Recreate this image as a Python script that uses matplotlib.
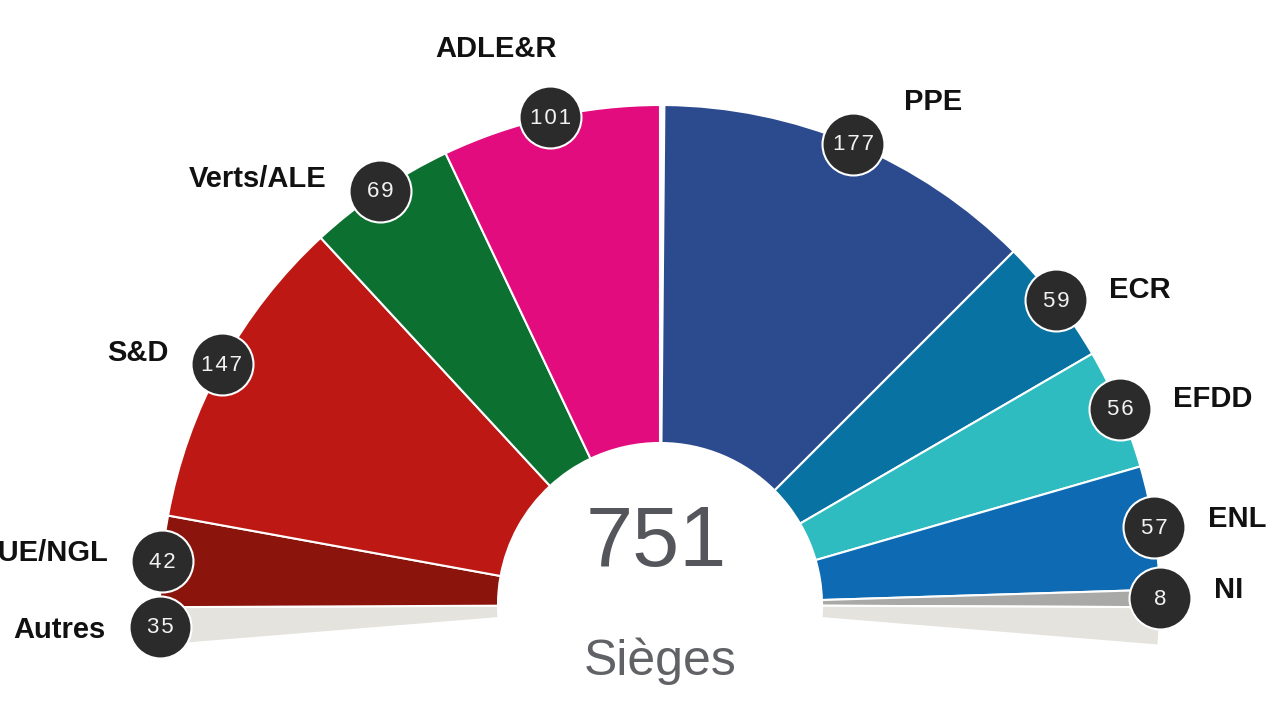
import matplotlib
matplotlib.use("Agg")
import matplotlib.pyplot as plt
import numpy as np

# seats, clockwise from the top
right_groups = ["PPE", "ECR", "EFDD", "ENL", "NI"]
right_seats = [177, 59, 56, 57, 8]
right_colors = ["#2c4a8e", "#0872a3", "#2fbcc0", "#0e6bb3", "#a9a9a7"]

left_groups = ["GUE/NGL", "S&D", "Verts/ALE", "ADLE&R"]
left_seats = [42, 147, 69, 101]
left_colors = ["#8b140d", "#bd1813", "#0b7030", "#e30c7e"]

other_label = "Autres"
other_seats = 35
other_color = "#e5e3de"
total_seats = 751
total_label = "Sièges"

# text centres for the group names, pixels
label_pos = {
    "PPE": (933, 102), "ECR": (1140, 290), "EFDD": (1213, 399), "ENL": (1237, 519),
    "NI": (1229, 590), "GUE/NGL": (42, 553), "S&D": (138, 353),
    "Verts/ALE": (258, 179), "ADLE&R": (496, 49), "Autres": (59, 630),
}

cx, cy = 660, 115
radius = 500
hole = 162
top_gap = 2  # right half sits a little past the vertical

fig = plt.figure(figsize=(12.8, 7.2), dpi=100)
ax = fig.add_axes([0, 0, 1, 1])

# half circle holds the seats without "Autres", which hang below it on both sides
half = sum(right_seats) + sum(left_seats)
hidden = half - other_seats - top_gap
values = [top_gap] + right_seats + [other_seats / 2, hidden, other_seats / 2] + left_seats
colors = ["white"] + right_colors + [other_color, "white", other_color] + left_colors

wedges, _ = ax.pie(
    values,
    colors=colors,
    center=(cx, cy),
    radius=radius,
    startangle=90,
    counterclock=False,
    frame=True,
    wedgeprops={"width": radius - hole, "edgecolor": "white", "linewidth": 1.5},
)
wedges[len(right_seats) + 2].set_visible(False)

ax.set_xlim(0, 1280)
ax.set_ylim(0, 720)
ax.set_aspect("equal")
ax.axis("off")


def badge(angle, seats):
    # angle in degrees clockwise from the top
    x = cx + radius * np.sin(np.radians(angle))
    y = cy + radius * np.cos(np.radians(angle))
    ax.scatter([x], [y], s=1990, color="#2b2b2b", edgecolor="white", linewidth=1.5, zorder=5)
    ax.text(x, y - 1, "\u200a".join(str(seats)), color="#f2f2f2", fontsize=16, ha="center", va="center",
            family=["Liberation Sans", "DejaVu Sans"], zorder=6)


deg_per_seat = 180 / half

acc = top_gap
for name, seats in zip(right_groups, right_seats):
    badge((acc + seats / 2) * deg_per_seat, seats)
    acc += seats

acc = 0
for name, seats in zip(reversed(left_groups), reversed(left_seats)):
    badge(-(acc + seats / 2) * deg_per_seat, seats)
    acc += seats

badge(-90 - other_seats / 3.5 * deg_per_seat, other_seats)

for name, (x, y) in label_pos.items():
    ax.text(x, 720 - y, name, fontsize=21, fontweight="bold", ha="center", va="center",
            family="Liberation Sans", color="#111111")

ax.text(656, 720 - 544, str(total_seats), fontsize=61, color="#54565b", ha="center", va="center",
        family="Liberation Sans")
ax.text(660, 720 - 661, total_label, fontsize=36, color="#606266", ha="center", va="center",
        family="Liberation Sans")

fig.savefig("out.png", dpi=100)
